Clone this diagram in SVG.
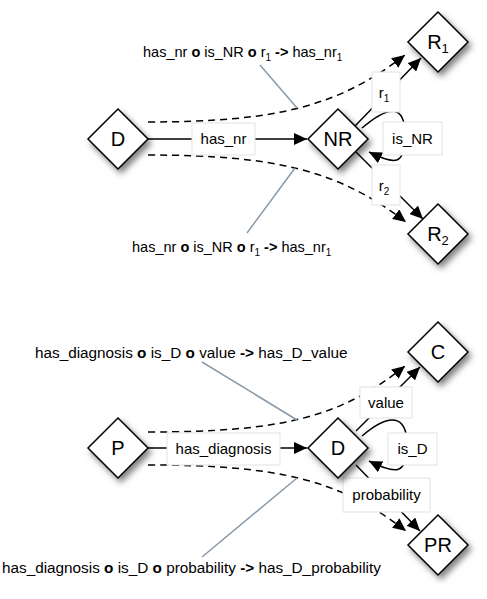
<svg xmlns="http://www.w3.org/2000/svg" width="487" height="599" viewBox="0 0 487 599">
<style>
text{font-family:"Liberation Sans",Arial,sans-serif;fill:#000}
.lbl{font-size:15px}
.lt{font-size:14.5px}
.lb{font-size:15.3px}
.nt{font-size:20px;text-anchor:middle}
.bt{font-size:15px;text-anchor:middle}
.b{font-weight:bold}
.dia{fill:#fff;stroke:#000;stroke-width:1.5;filter:url(#sh)}
.e{fill:none;stroke:#000;stroke-width:1.5}
.d{fill:none;stroke:#000;stroke-width:1.5;stroke-dasharray:7,5}
.g{fill:none;stroke:#8a9aa8;stroke-width:1.5}
.box{fill:#fff;stroke:#e2e2e2;stroke-width:1}
</style>
<defs>
<filter id="sh" x="-30%" y="-30%" width="170%" height="170%">
<feDropShadow dx="3" dy="4" stdDeviation="3" flood-color="#000" flood-opacity="0.5"/>
</filter>
<marker id="ar" markerUnits="userSpaceOnUse" markerWidth="14" markerHeight="12" refX="13" refY="6" orient="auto">
<path d="M0,0 L13,6 L0,12 z" fill="#000"/>
</marker>
</defs>
<g id="connectors">
<path class="d" d="M148,122 C280,122 340,105 405,55" marker-end="url(#ar)"/>
<path class="d" d="M148,155 C280,155 340,172 406,222" marker-end="url(#ar)"/>
<path class="e" d="M148,139 L307,139" marker-end="url(#ar)"/>
<path class="e" d="M355,126 L421,58" marker-end="url(#ar)"/>
<path class="e" d="M356,152 L423,219" marker-end="url(#ar)"/>
<path class="e" d="M362,128 C390,104 405,105 405,135 C405,166 395,165 369,152" marker-end="url(#ar)"/>
<path class="g" d="M260,65 L297,108"/>
<path class="g" d="M295,168 L247,233"/>
<path class="d" d="M148,432 C280,432 340,418 405,366" marker-end="url(#ar)"/>
<path class="d" d="M148,465 C280,465 340,480 406,531" marker-end="url(#ar)"/>
<path class="e" d="M148,448 L307,448" marker-end="url(#ar)"/>
<path class="e" d="M356,431 L420,367" marker-end="url(#ar)"/>
<path class="e" d="M356,465 L420,531" marker-end="url(#ar)"/>
<path class="e" d="M362,436 C390,412 407,415 407,445 C407,476 395,474 369,461" marker-end="url(#ar)"/>
<path class="g" d="M202,362 L297,420"/>
<path class="g" d="M297,478 L202,557"/>
<rect class="box" x="192" y="123" width="63" height="32"/>
<text class="bt" x="223.5" y="144">has_nr</text>
<rect class="box" x="372" y="72" width="28" height="40"/>
<text class="bt" x="384" y="98">r<tspan font-size="10" dy="4">1</tspan></text>
<rect class="box" x="383" y="122" width="59" height="33"/>
<text class="bt" x="412.5" y="144">is_NR</text>
<rect class="box" x="372" y="165" width="28" height="40"/>
<text class="bt" x="384" y="191">r<tspan font-size="10" dy="4">2</tspan></text>
<rect class="box" x="167" y="433" width="113" height="32"/>
<text class="bt" x="223.5" y="454">has_diagnosis</text>
<rect class="box" x="360" y="387" width="52" height="31"/>
<text class="bt" x="386" y="408">value</text>
<rect class="box" x="388" y="433" width="49" height="32"/>
<text class="bt" x="412.5" y="454">is_D</text>
<rect class="box" x="343" y="478" width="87" height="34"/>
<text class="bt" x="386.5" y="500">probability</text>
</g>
<g id="lbl-top1"><text class="lt" x="143" y="57">has_nr <tspan class="b">o</tspan> is_NR <tspan class="b">o</tspan> r<tspan font-size="10" dy="4">1</tspan><tspan dy="-4"> </tspan><tspan class="b">-&gt;</tspan> has_nr<tspan font-size="10" dy="4">1</tspan></text></g>
<g id="lbl-top2"><text class="lt" x="132" y="252">has_nr <tspan class="b">o</tspan> is_NR <tspan class="b">o</tspan> r<tspan font-size="10" dy="4">1</tspan><tspan dy="-4"> </tspan><tspan class="b">-&gt;</tspan> has_nr<tspan font-size="10" dy="4">1</tspan></text></g>
<g id="lbl-bot1"><text class="lb" x="35" y="358">has_diagnosis <tspan class="b">o</tspan> is_D <tspan class="b">o</tspan> value <tspan class="b">-&gt;</tspan> has_D_value</text></g>
<g id="lbl-bot2"><text class="lb" x="2" y="573">has_diagnosis <tspan class="b">o</tspan> is_D <tspan class="b">o</tspan> probability <tspan class="b">-&gt;</tspan> has_D_probability</text></g>
<g id="node-D1"><path class="dia" d="M118,109 L148,139 L118,169 L88,139 z"/><text class="nt" x="118" y="146">D</text></g>
<g id="node-NR"><path class="dia" d="M338,109 L368,139 L338,169 L308,139 z"/><text class="nt" x="338" y="146">NR</text></g>
<g id="node-R1"><path class="dia" d="M438,12 L468,42 L438,72 L408,42 z"/><text class="nt" x="438" y="49">R<tspan font-size="13" dy="4">1</tspan></text></g>
<g id="node-R2"><path class="dia" d="M438,204 L468,234 L438,264 L408,234 z"/><text class="nt" x="438" y="241">R<tspan font-size="13" dy="4">2</tspan></text></g>
<g id="node-P"><path class="dia" d="M118,418 L148,448 L118,478 L88,448 z"/><text class="nt" x="118" y="455">P</text></g>
<g id="node-D2"><path class="dia" d="M338,418 L368,448 L338,478 L308,448 z"/><text class="nt" x="338" y="455">D</text></g>
<g id="node-C"><path class="dia" d="M438,322 L468,352 L438,382 L408,352 z"/><text class="nt" x="438" y="359">C</text></g>
<g id="node-PR"><path class="dia" d="M438,515 L468,545 L438,575 L408,545 z"/><text class="nt" x="438" y="552">PR</text></g>
</svg>
